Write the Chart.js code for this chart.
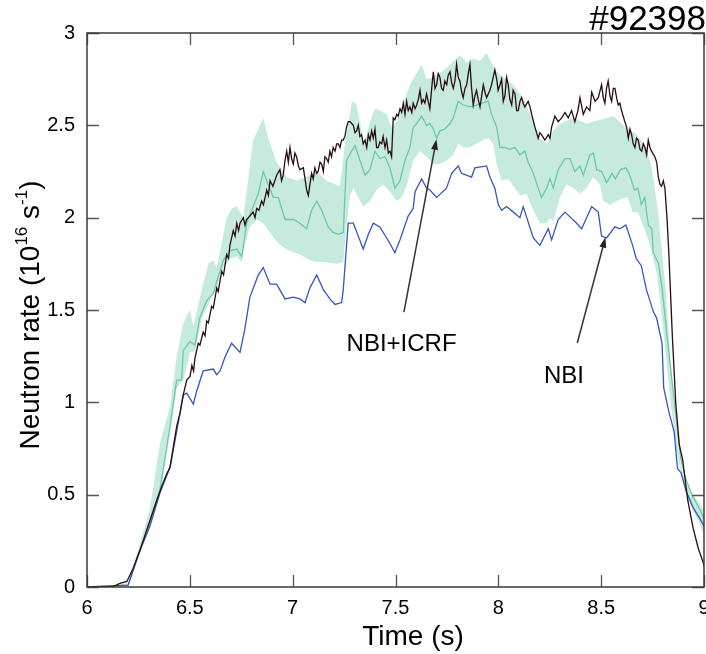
<!DOCTYPE html>
<html>
<head>
<meta charset="utf-8">
<script src="https://cdn.jsdelivr.net/npm/chart.js@4"></script>
<style>
  html, body { margin: 0; padding: 0; background: #fff; }
  #wrap { width: 706px; height: 654px; }
</style>
</head>
<body>
<div id="wrap"><canvas id="neutronChart" width="706" height="654"></canvas></div>
<script>
const FONT = '"Liberation Sans", Arial, sans-serif';

const shotLabel = '#92398';
const xTicks = [6, 6.5, 7, 7.5, 8, 8.5, 9];
const yTicks = [0, 0.5, 1, 1.5, 2, 2.5, 3];

// measured neutron rate [time (s), rate (1e16/s)]
const measured = [
  [6.000, 0], [6.122, 0], [6.160, 0.02], [6.194, 0.03], [6.224, 0.10], [6.258, 0.20], [6.297, 0.33],
  [6.339, 0.47], [6.365, 0.55], [6.387, 0.61], [6.404, 0.65], [6.420, 0.76], [6.436, 0.87], [6.452, 0.94],
  [6.468, 1.04], [6.485, 1.12], [6.501, 1.14], [6.510, 1.20], [6.518, 1.17], [6.525, 1.24], [6.541, 1.32],
  [6.549, 1.31], [6.565, 1.38], [6.574, 1.36], [6.582, 1.44], [6.590, 1.43], [6.606, 1.52], [6.614, 1.51],
  [6.631, 1.62], [6.638, 1.60], [6.655, 1.71], [6.664, 1.69], [6.679, 1.80], [6.688, 1.78], [6.695, 1.85],
  [6.711, 1.93], [6.720, 1.90], [6.728, 1.97], [6.737, 1.93], [6.744, 1.97], [6.760, 2.00], [6.768, 1.96],
  [6.776, 1.99], [6.792, 2.01], [6.808, 2.03], [6.817, 2.00], [6.825, 2.05], [6.836, 2.04], [6.849, 2.09],
  [6.858, 2.07], [6.874, 2.15], [6.882, 2.12], [6.890, 2.20], [6.904, 2.17], [6.922, 2.23], [6.938, 2.26],
  [6.946, 2.20], [6.954, 2.23], [6.963, 2.31], [6.971, 2.36], [6.979, 2.30], [6.987, 2.38], [6.995, 2.32],
  [7.003, 2.29], [7.011, 2.35], [7.019, 2.33], [7.028, 2.28], [7.035, 2.26], [7.052, 2.27], [7.060, 2.21],
  [7.068, 2.15], [7.076, 2.12], [7.084, 2.18], [7.092, 2.24], [7.100, 2.21], [7.108, 2.27], [7.117, 2.24],
  [7.124, 2.25], [7.133, 2.30], [7.141, 2.29], [7.149, 2.25], [7.157, 2.33], [7.165, 2.32], [7.173, 2.30],
  [7.181, 2.36], [7.189, 2.33], [7.197, 2.38], [7.206, 2.36], [7.214, 2.40], [7.222, 2.40], [7.230, 2.38],
  [7.238, 2.42], [7.246, 2.42], [7.254, 2.44], [7.262, 2.49], [7.270, 2.52], [7.279, 2.52], [7.287, 2.51],
  [7.295, 2.50], [7.303, 2.46], [7.311, 2.47], [7.319, 2.50], [7.327, 2.44], [7.335, 2.45], [7.343, 2.40],
  [7.352, 2.42], [7.360, 2.38], [7.368, 2.45], [7.376, 2.42], [7.384, 2.47], [7.392, 2.43], [7.400, 2.48],
  [7.408, 2.38], [7.416, 2.38], [7.424, 2.41], [7.433, 2.40], [7.440, 2.44], [7.449, 2.38], [7.457, 2.42],
  [7.465, 2.35], [7.473, 2.36], [7.481, 2.33], [7.489, 2.54], [7.497, 2.53], [7.506, 2.56], [7.513, 2.55],
  [7.522, 2.59], [7.530, 2.57], [7.538, 2.62], [7.546, 2.56], [7.554, 2.63], [7.562, 2.58], [7.570, 2.60],
  [7.579, 2.57], [7.586, 2.62], [7.595, 2.59], [7.603, 2.61], [7.611, 2.64], [7.619, 2.69], [7.627, 2.62],
  [7.635, 2.64], [7.643, 2.62], [7.651, 2.67], [7.659, 2.63], [7.667, 2.59], [7.676, 2.70], [7.684, 2.79],
  [7.692, 2.70], [7.700, 2.72], [7.708, 2.78], [7.716, 2.76], [7.724, 2.70], [7.732, 2.69], [7.740, 2.74],
  [7.749, 2.72], [7.756, 2.77], [7.765, 2.79], [7.773, 2.73], [7.781, 2.70], [7.789, 2.74], [7.797, 2.83],
  [7.805, 2.76], [7.813, 2.74], [7.822, 2.68], [7.829, 2.65], [7.838, 2.70], [7.846, 2.72], [7.854, 2.78],
  [7.862, 2.83], [7.870, 2.70], [7.878, 2.61], [7.886, 2.66], [7.894, 2.69], [7.902, 2.64], [7.911, 2.60],
  [7.919, 2.66], [7.927, 2.72], [7.935, 2.68], [7.943, 2.65], [7.951, 2.67], [7.959, 2.69], [7.967, 2.72],
  [7.975, 2.76], [7.983, 2.80], [7.992, 2.75], [7.999, 2.69], [8.008, 2.72], [8.016, 2.75], [8.024, 2.63],
  [8.032, 2.66], [8.040, 2.76], [8.048, 2.72], [8.056, 2.64], [8.065, 2.61], [8.072, 2.69], [8.081, 2.67],
  [8.089, 2.58], [8.097, 2.58], [8.105, 2.63], [8.113, 2.65], [8.121, 2.62], [8.129, 2.60], [8.145, 2.63],
  [8.154, 2.60], [8.162, 2.56], [8.178, 2.49], [8.194, 2.43], [8.202, 2.46], [8.210, 2.45], [8.226, 2.42],
  [8.243, 2.45], [8.251, 2.43], [8.259, 2.49], [8.275, 2.55], [8.291, 2.52], [8.308, 2.54], [8.324, 2.57],
  [8.340, 2.54], [8.356, 2.58], [8.372, 2.52], [8.387, 2.58], [8.397, 2.65], [8.413, 2.56], [8.429, 2.60],
  [8.445, 2.58], [8.454, 2.68], [8.470, 2.63], [8.486, 2.65], [8.502, 2.72], [8.510, 2.65], [8.518, 2.62],
  [8.526, 2.70], [8.534, 2.74], [8.543, 2.66], [8.551, 2.63], [8.559, 2.70], [8.567, 2.70], [8.575, 2.65],
  [8.583, 2.61], [8.591, 2.62], [8.599, 2.58], [8.615, 2.52], [8.624, 2.49], [8.632, 2.43], [8.640, 2.48],
  [8.648, 2.45], [8.656, 2.40], [8.664, 2.38], [8.672, 2.43], [8.680, 2.42], [8.689, 2.37], [8.697, 2.36],
  [8.705, 2.40], [8.713, 2.38], [8.721, 2.34], [8.729, 2.42], [8.737, 2.38], [8.745, 2.36], [8.761, 2.33],
  [8.770, 2.30], [8.778, 2.22], [8.786, 2.18], [8.794, 2.17], [8.802, 2.20], [8.810, 2.16], [8.820, 2.00],
  [8.829, 1.81], [8.846, 1.36], [8.863, 0.99], [8.880, 0.77], [8.896, 0.69], [8.921, 0.47], [8.947, 0.32],
  [8.972, 0.21], [8.997, 0.13], [9.000, 0.11]
];

// simulation, NBI only
const nbiOnly = [
  [6.000, 0], [6.200, 0.01], [6.258, 0.20], [6.306, 0.33], [6.355, 0.51], [6.404, 0.65], [6.444, 0.89],
  [6.468, 1.04], [6.485, 1.05], [6.517, 0.99], [6.533, 1.06], [6.565, 1.17], [6.614, 1.18], [6.630, 1.15],
  [6.647, 1.17], [6.671, 1.245], [6.703, 1.32], [6.744, 1.27], [6.768, 1.40], [6.792, 1.57], [6.833, 1.69],
  [6.857, 1.73], [6.890, 1.64], [6.922, 1.64], [6.963, 1.56], [7.003, 1.57], [7.035, 1.56], [7.060, 1.54],
  [7.084, 1.62], [7.117, 1.69], [7.149, 1.61], [7.181, 1.56], [7.206, 1.53], [7.238, 1.54], [7.246, 1.61],
  [7.270, 1.97], [7.295, 1.97], [7.319, 1.90], [7.343, 1.83], [7.368, 1.91], [7.392, 1.97], [7.424, 1.95],
  [7.473, 1.86], [7.497, 1.81], [7.522, 1.88], [7.562, 2.01], [7.586, 2.05], [7.595, 2.14], [7.627, 2.21],
  [7.651, 2.16], [7.667, 2.15], [7.700, 2.11], [7.748, 2.16], [7.773, 2.24], [7.805, 2.28], [7.821, 2.24],
  [7.870, 2.22], [7.886, 2.27], [7.943, 2.28], [7.959, 2.22], [7.983, 2.16], [8.000, 2.07], [8.016, 2.04],
  [8.040, 2.06], [8.073, 2.03], [8.105, 2.00], [8.121, 2.06], [8.170, 1.89], [8.202, 1.85], [8.243, 1.94],
  [8.259, 1.88], [8.291, 1.99], [8.324, 2.03], [8.381, 1.97], [8.405, 1.94], [8.454, 2.06], [8.486, 2.03],
  [8.502, 1.90], [8.526, 1.89], [8.567, 1.95], [8.591, 1.94], [8.620, 1.96], [8.653, 1.85], [8.670, 1.78],
  [8.695, 1.74], [8.720, 1.61], [8.754, 1.49], [8.770, 1.455], [8.796, 1.32], [8.804, 1.08], [8.829, 0.95],
  [8.855, 0.84], [8.871, 0.64], [8.888, 0.62], [8.913, 0.52], [8.947, 0.43], [8.980, 0.37], [9.000, 0.33]
];

// simulation, NBI+ICRF (central line)
const nbiIcrf = [
  [6.000, 0], [6.199, 0.01], [6.258, 0.20], [6.306, 0.35], [6.355, 0.53], [6.404, 0.87], [6.436, 1.12],
  [6.460, 1.12], [6.468, 1.28], [6.501, 1.33], [6.525, 1.31], [6.549, 1.46], [6.582, 1.55], [6.614, 1.59],
  [6.638, 1.68], [6.663, 1.77], [6.695, 1.82], [6.728, 1.83], [6.752, 1.79], [6.760, 1.84], [6.776, 1.97],
  [6.801, 2.04], [6.833, 2.13], [6.857, 2.25], [6.881, 2.18], [6.906, 2.11], [6.930, 2.11], [6.963, 1.99],
  [7.003, 1.99], [7.035, 1.97], [7.068, 1.94], [7.092, 2.04], [7.117, 2.09], [7.141, 2.04], [7.173, 1.95],
  [7.197, 1.92], [7.222, 1.91], [7.246, 1.92], [7.262, 2.31], [7.287, 2.36], [7.303, 2.39], [7.327, 2.31],
  [7.352, 2.23], [7.376, 2.26], [7.400, 2.36], [7.424, 2.32], [7.449, 2.33], [7.473, 2.27], [7.497, 2.16],
  [7.522, 2.20], [7.546, 2.31], [7.570, 2.38], [7.586, 2.49], [7.603, 2.51], [7.627, 2.55], [7.651, 2.50],
  [7.667, 2.51], [7.684, 2.48], [7.700, 2.43], [7.716, 2.47], [7.740, 2.48], [7.765, 2.51], [7.781, 2.54],
  [7.805, 2.63], [7.829, 2.61], [7.862, 2.60], [7.894, 2.61], [7.919, 2.62], [7.951, 2.63], [7.967, 2.56],
  [7.992, 2.49], [8.008, 2.38], [8.032, 2.38], [8.056, 2.37], [8.081, 2.38], [8.105, 2.34], [8.129, 2.36],
  [8.145, 2.30], [8.170, 2.24], [8.194, 2.16], [8.210, 2.11], [8.235, 2.16], [8.251, 2.21], [8.267, 2.16],
  [8.291, 2.26], [8.324, 2.32], [8.348, 2.32], [8.372, 2.25], [8.397, 2.28], [8.413, 2.23], [8.445, 2.34],
  [8.462, 2.35], [8.478, 2.26], [8.502, 2.25], [8.527, 2.19], [8.553, 2.24], [8.569, 2.21], [8.594, 2.26],
  [8.620, 2.27], [8.636, 2.24], [8.662, 2.15], [8.679, 2.16], [8.695, 2.07], [8.712, 2.11], [8.729, 1.96],
  [8.746, 1.94], [8.754, 1.81], [8.779, 1.75], [8.796, 1.62], [8.813, 1.44], [8.829, 1.27], [8.855, 1.01],
  [8.871, 0.84], [8.888, 0.69], [8.913, 0.58], [8.947, 0.485], [8.980, 0.42], [9.000, 0.37]
];

// NBI+ICRF uncertainty band
const bandUpper = [
  [6.199, 0.01], [6.258, 0.24], [6.306, 0.42], [6.355, 0.78], [6.404, 0.98], [6.436, 1.25], [6.468, 1.43],
  [6.501, 1.50], [6.517, 1.41], [6.558, 1.61], [6.590, 1.75], [6.614, 1.77], [6.631, 1.73], [6.679, 2.00],
  [6.703, 2.05], [6.728, 2.06], [6.760, 2.00], [6.783, 2.20], [6.808, 2.42], [6.857, 2.54], [6.881, 2.43],
  [6.922, 2.30], [6.971, 2.22], [7.019, 2.20], [7.068, 2.22], [7.117, 2.25], [7.165, 2.20], [7.230, 2.17],
  [7.254, 2.40], [7.288, 2.63], [7.308, 2.62], [7.327, 2.52], [7.347, 2.40], [7.376, 2.52], [7.400, 2.59],
  [7.424, 2.58], [7.457, 2.56], [7.481, 2.49], [7.506, 2.52], [7.538, 2.62], [7.570, 2.72], [7.627, 2.83],
  [7.651, 2.75], [7.684, 2.76], [7.749, 2.81], [7.813, 2.88], [7.846, 2.84], [7.878, 2.86], [7.911, 2.85],
  [7.943, 2.89], [7.967, 2.84], [7.992, 2.79], [8.024, 2.76], [8.072, 2.72], [8.121, 2.65], [8.170, 2.52],
  [8.202, 2.43], [8.235, 2.40], [8.267, 2.47], [8.300, 2.51], [8.364, 2.54], [8.429, 2.51], [8.494, 2.53],
  [8.559, 2.55], [8.591, 2.52], [8.628, 2.48], [8.662, 2.46], [8.695, 2.42], [8.720, 2.37], [8.746, 2.27],
  [8.762, 2.15], [8.779, 2.01], [8.796, 1.81], [8.813, 1.62], [8.829, 1.36], [8.846, 1.08], [8.863, 0.86],
  [8.888, 0.65], [8.913, 0.56], [8.947, 0.50], [8.980, 0.45], [9.000, 0.41]
];

const bandLower = [
  [6.199, 0.01], [6.258, 0.18], [6.306, 0.32], [6.355, 0.50], [6.404, 0.84], [6.436, 1.08], [6.468, 1.12],
  [6.501, 1.27], [6.525, 1.28], [6.558, 1.45], [6.598, 1.55], [6.631, 1.62], [6.663, 1.73], [6.703, 1.78],
  [6.728, 1.79], [6.752, 1.76], [6.768, 1.86], [6.792, 1.95], [6.825, 1.99], [6.857, 1.97], [6.890, 1.92],
  [6.922, 1.87], [6.954, 1.84], [6.987, 1.82], [7.035, 1.80], [7.084, 1.77], [7.117, 1.76], [7.149, 1.76],
  [7.214, 1.75], [7.246, 1.76], [7.262, 1.96], [7.279, 2.12], [7.295, 2.16], [7.319, 2.11], [7.343, 2.06],
  [7.376, 2.09], [7.408, 2.15], [7.440, 2.18], [7.473, 2.14], [7.506, 2.09], [7.530, 2.11], [7.554, 2.17],
  [7.586, 2.31], [7.619, 2.36], [7.651, 2.33], [7.684, 2.29], [7.716, 2.29], [7.749, 2.31], [7.781, 2.34],
  [7.805, 2.40], [7.829, 2.38], [7.862, 2.38], [7.894, 2.40], [7.927, 2.42], [7.951, 2.43], [7.975, 2.40],
  [7.992, 2.29], [8.016, 2.20], [8.048, 2.21], [8.081, 2.16], [8.105, 2.12], [8.137, 2.13], [8.170, 2.04],
  [8.202, 1.97], [8.235, 1.97], [8.251, 2.00], [8.267, 1.98], [8.300, 2.11], [8.332, 2.18], [8.364, 2.16],
  [8.397, 2.13], [8.429, 2.16], [8.462, 2.22], [8.494, 2.18], [8.510, 2.09], [8.543, 2.07], [8.594, 2.10],
  [8.628, 2.11], [8.653, 2.03], [8.679, 2.03], [8.703, 1.96], [8.729, 1.88], [8.746, 1.81], [8.770, 1.70],
  [8.787, 1.55], [8.804, 1.36], [8.821, 1.18], [8.838, 0.99], [8.855, 0.84], [8.871, 0.71], [8.888, 0.62],
  [8.913, 0.50], [8.947, 0.41], [8.980, 0.34], [9.000, 0.28]
];

// arrow annotations: label position, arrow start, arrow tip (data units)
const notes = [
  { text: 'NBI+ICRF', at: [7.262, 1.277], from: [7.541, 1.488], to: [7.699, 2.424] },
  { text: 'NBI', at: [8.222, 1.104], from: [8.384, 1.321], to: [8.521, 1.894] }
];

function toPoints(pairs) {
    return pairs.map(p => ({ x: p[0], y: p[1] }));
}

function lineSet(label, pairs, color, width) {
    return {
        label: label,
        data: toPoints(pairs),
        borderColor: color,
        borderWidth: width,
        pointRadius: 0,
        tension: 0,
        fill: false
    };
}

function drawYTitle(ctx, x, cy) {
    const parts = [
        { text: 'Neutron rate (10', size: 28, dy: 0 },
        { text: '16', size: 17, dy: -12 },
        { text: ' s', size: 28, dy: 0 },
        { text: '-1', size: 17, dy: -12 },
        { text: ')', size: 28, dy: 0 }
    ];
    let total = 0;
    parts.forEach(p => {
        ctx.font = `${p.size}px ${FONT}`;
        p.w = ctx.measureText(p.text).width;
        total += p.w;
    });
    ctx.save();
    ctx.translate(x, cy);
    ctx.rotate(-Math.PI / 2);
    ctx.fillStyle = '#000';
    ctx.textAlign = 'left';
    ctx.textBaseline = 'alphabetic';
    let cx = -total / 2;
    parts.forEach(p => {
        ctx.font = `${p.size}px ${FONT}`;
        ctx.fillText(p.text, cx, p.dy);
        cx += p.w;
    });
    ctx.restore();
}

function drawArrow(ctx, x1, y1, x2, y2) {
    const ang = Math.atan2(y2 - y1, x2 - x1);
    const head = 11, spread = 0.32;
    ctx.beginPath();
    ctx.moveTo(x1, y1);
    ctx.lineTo(x2 - Math.cos(ang) * head * 0.8, y2 - Math.sin(ang) * head * 0.8);
    ctx.stroke();
    ctx.beginPath();
    ctx.moveTo(x2, y2);
    ctx.lineTo(x2 - head * Math.cos(ang - spread), y2 - head * Math.sin(ang - spread));
    ctx.lineTo(x2 - head * Math.cos(ang + spread), y2 - head * Math.sin(ang + spread));
    ctx.closePath();
    ctx.fill();
}

const framePlugin = {
    id: 'frame',
    afterDraw(chart) {
        const { ctx, chartArea: a, scales: { x, y } } = chart;
        ctx.save();

        // inward tick marks on all four sides
        ctx.strokeStyle = '#555';
        ctx.lineWidth = 1.3;
        ctx.beginPath();
        xTicks.forEach(v => {
            const px = Math.round(x.getPixelForValue(v)) + 0.5;
            ctx.moveTo(px, a.bottom); ctx.lineTo(px, a.bottom - 12);
            ctx.moveTo(px, a.top); ctx.lineTo(px, a.top + 12);
        });
        yTicks.forEach(v => {
            const py = Math.round(y.getPixelForValue(v)) + 0.5;
            ctx.moveTo(a.left, py); ctx.lineTo(a.left + 12, py);
            ctx.moveTo(a.right, py); ctx.lineTo(a.right - 12, py);
        });
        ctx.stroke();

        ctx.strokeStyle = '#3a3a3a';
        ctx.lineWidth = 1.5;
        ctx.strokeRect(a.left, a.top, a.right - a.left, a.bottom - a.top);

        // annotations
        ctx.strokeStyle = '#333';
        ctx.lineWidth = 1.5;
        notes.forEach(n => {
            ctx.fillStyle = '#222';
            drawArrow(ctx,
                x.getPixelForValue(n.from[0]), y.getPixelForValue(n.from[1]),
                x.getPixelForValue(n.to[0]), y.getPixelForValue(n.to[1]));
            ctx.font = `24px ${FONT}`;
            ctx.fillStyle = '#000';
            ctx.textAlign = 'left';
            ctx.textBaseline = 'alphabetic';
            ctx.fillText(n.text, x.getPixelForValue(n.at[0]), y.getPixelForValue(n.at[1]));
        });

        // shot number
        ctx.font = `35px ${FONT}`;
        ctx.fillStyle = '#000';
        ctx.textAlign = 'right';
        ctx.textBaseline = 'alphabetic';
        ctx.fillText(shotLabel, 706, 30);

        // x title
        ctx.font = `28px ${FONT}`;
        ctx.textAlign = 'center';
        ctx.fillText('Time (s)', 413, 645);

        drawYTitle(ctx, 39, 315);
        ctx.restore();
    }
};

function noPad(s) {
    s.paddingLeft = 0;
    s.paddingRight = 0;
    s.paddingTop = 0;
    s.paddingBottom = 0;
}

new Chart(document.getElementById('neutronChart'), {
    type: 'line',
    data: {
        datasets: [
            lineSet('Measured', measured, '#2a0e0e', 1.3),
            lineSet('NBI', nbiOnly, '#3a55b8', 1.3),
            lineSet('NBI+ICRF', nbiIcrf, '#6cc8a9', 1.3),
            {
                label: 'band upper',
                data: toPoints(bandUpper),
                borderColor: 'rgba(0,0,0,0)',
                borderWidth: 0,
                pointRadius: 0,
                tension: 0,
                backgroundColor: 'rgba(120, 204, 176, 0.42)',
                fill: '+1'
            },
            {
                label: 'band lower',
                data: toPoints(bandLower),
                borderColor: 'rgba(0,0,0,0)',
                borderWidth: 0,
                pointRadius: 0,
                tension: 0,
                fill: false
            }
        ]
    },
    options: {
        responsive: false,
        animation: false,
        devicePixelRatio: 1,
        layout: { padding: { top: 33, right: 2, left: 0, bottom: 0 } },
        plugins: {
            legend: { display: false },
            tooltip: { enabled: false }
        },
        scales: {
            x: {
                type: 'linear',
                min: 6,
                max: 9,
                afterBuildTicks: s => { s.ticks = xTicks.map(v => ({ value: v })); },
                afterFit: s => { s.height = 67; noPad(s); },
                grid: { display: false, drawTicks: false },
                border: { display: false },
                ticks: {
                    padding: 9,
                    color: '#000',
                    font: { family: FONT, size: 20 },
                    maxRotation: 0,
                    callback: v => String(v)
                }
            },
            y: {
                type: 'linear',
                min: 0,
                max: 3,
                afterBuildTicks: s => { s.ticks = yTicks.map(v => ({ value: v })); },
                afterFit: s => { s.width = 87; noPad(s); },
                grid: { display: false, drawTicks: false },
                border: { display: false },
                ticks: {
                    padding: 12,
                    color: '#000',
                    font: { family: FONT, size: 20 },
                    callback: v => String(v)
                }
            }
        }
    },
    plugins: [framePlugin]
});
</script>
</body>
</html>
